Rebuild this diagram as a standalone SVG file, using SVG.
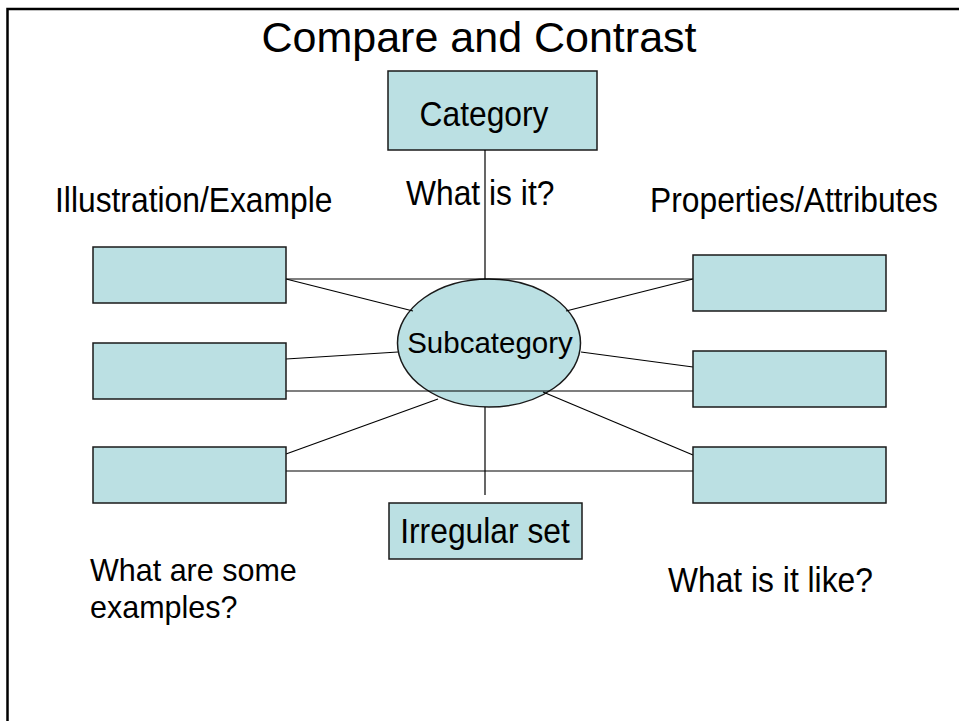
<svg xmlns="http://www.w3.org/2000/svg" width="959" height="721" viewBox="0 0 959 721">
<style>
.box{fill:#BBE0E3;stroke:#1a1a1a;stroke-width:1.5}
.ln{stroke:#000;stroke-width:1.2;fill:none}
text{font-family:"Liberation Sans",Arial,sans-serif;fill:#000}
.lbl{font-size:31.8px}
</style>
<rect x="0" y="0" width="959" height="721" fill="#fff"/>
<rect x="7.5" y="9" width="970" height="730" fill="none" stroke="#000" stroke-width="2.5"/>
<text x="479" y="52" font-size="43" text-anchor="middle">Compare and Contrast</text>
<g id="category">
<rect class="box" x="388" y="71" width="209" height="79"/>
<text class="lbl" text-anchor="middle" transform="translate(484,126) scale(1,1.12)">Category</text>
</g>
<g id="label-what-is-it"><text class="lbl" transform="translate(406,205) scale(1,1.12)">What is it?</text></g>
<g id="label-illustration"><text class="lbl" transform="translate(55,212) scale(1,1.12)">Illustration/Example</text></g>
<g id="label-properties"><text class="lbl" transform="translate(650,212) scale(1,1.12)">Properties/Attributes</text></g>
<g id="subcategory">
<ellipse class="box" cx="489" cy="343" rx="91.5" ry="64"/>
<text font-size="29.5" text-anchor="middle" x="490" y="353">Subcategory</text>
</g>
<g id="connectors">
<line class="ln" x1="485" y1="150" x2="485" y2="279"/>
<line class="ln" x1="286" y1="279" x2="693" y2="279"/>
<line class="ln" x1="286" y1="279" x2="413" y2="311"/>
<line class="ln" x1="693" y1="279" x2="566" y2="311"/>
<line class="ln" x1="286" y1="359" x2="398" y2="352"/>
<line class="ln" x1="581" y1="352" x2="693" y2="367"/>
<line class="ln" x1="286" y1="391" x2="693" y2="391"/>
<line class="ln" x1="286" y1="454" x2="438" y2="399"/>
<line class="ln" x1="543" y1="392" x2="693" y2="455"/>
<line class="ln" x1="286" y1="471" x2="693" y2="471"/>
<line class="ln" x1="485" y1="407" x2="485" y2="495"/>
</g>
<g id="example-1"><rect class="box" x="93" y="247" width="193" height="56"/></g>
<g id="example-2"><rect class="box" x="93" y="343" width="193" height="56"/></g>
<g id="example-3"><rect class="box" x="93" y="447" width="193" height="56"/></g>
<g id="property-1"><rect class="box" x="693" y="255" width="193" height="56"/></g>
<g id="property-2"><rect class="box" x="693" y="351" width="193" height="56"/></g>
<g id="property-3"><rect class="box" x="693" y="447" width="193" height="56"/></g>
<g id="irregular-set">
<rect class="box" x="389" y="503" width="193" height="56"/>
<text class="lbl" text-anchor="middle" transform="translate(485,543) scale(1,1.12)">Irregular set</text>
</g>
<g id="label-examples-q">
<text font-size="30.5" x="90" y="581">What are some</text>
<text font-size="30.5" x="90" y="618">examples?</text>
</g>
<g id="label-like-q"><text class="lbl" transform="translate(668,592) scale(1,1.12)">What is it like?</text></g>
</svg>
